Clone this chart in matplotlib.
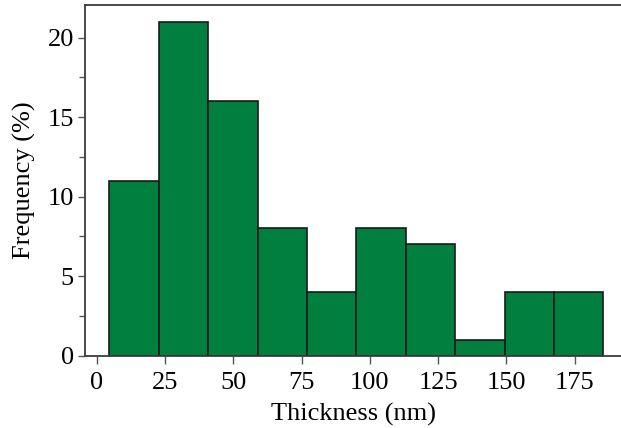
import matplotlib
matplotlib.use('Agg')
import matplotlib.pyplot as plt
from matplotlib.ticker import MultipleLocator

# Histogram of thickness, in percent per bin
bin_start = 4.6
bin_width = 18.1
frequency = [11, 21, 16, 8, 4, 8, 7, 1, 4, 4]
x_ticks = [0, 25, 50, 75, 100, 125, 150, 175]
y_ticks = [0, 5, 10, 15, 20]

plt.rcParams['font.family'] = ['Liberation Serif', 'DejaVu Serif']

fig = plt.figure(figsize=(6.21, 4.28), dpi=100)
ax = fig.add_axes([0.137, 0.169, 0.866, 0.819])

lefts = [bin_start + i * bin_width for i in range(len(frequency))]
ax.bar(lefts, frequency, width=bin_width, align='edge',
       color='#007f3f', edgecolor='#1a1a1a', linewidth=1.2)

ax.set_xlim(-4.3, 192.7)
ax.set_ylim(0, 22.05)
ax.set_xticks(x_ticks)
ax.set_yticks(y_ticks)
ax.yaxis.set_minor_locator(MultipleLocator(2.5))

frame = '#3c3c3c'
for side in ('left', 'bottom', 'top'):
    ax.spines[side].set_color(frame)
    ax.spines[side].set_linewidth(1.3)
ax.spines['right'].set_visible(False)

ax.tick_params(axis='both', which='major', direction='out', length=5,
               width=1, color='#555555', labelsize=19, pad=3)
ax.tick_params(axis='x', which='major', length=6, pad=6)
ax.tick_params(axis='y', which='minor', direction='out', length=4,
               width=1, color='#555555')

ax.set_xlabel('Thickness (nm)', fontsize=19, labelpad=6)
ax.set_ylabel('Frequency (%)', fontsize=19, labelpad=8)

fig.savefig('out.png', dpi=100)
